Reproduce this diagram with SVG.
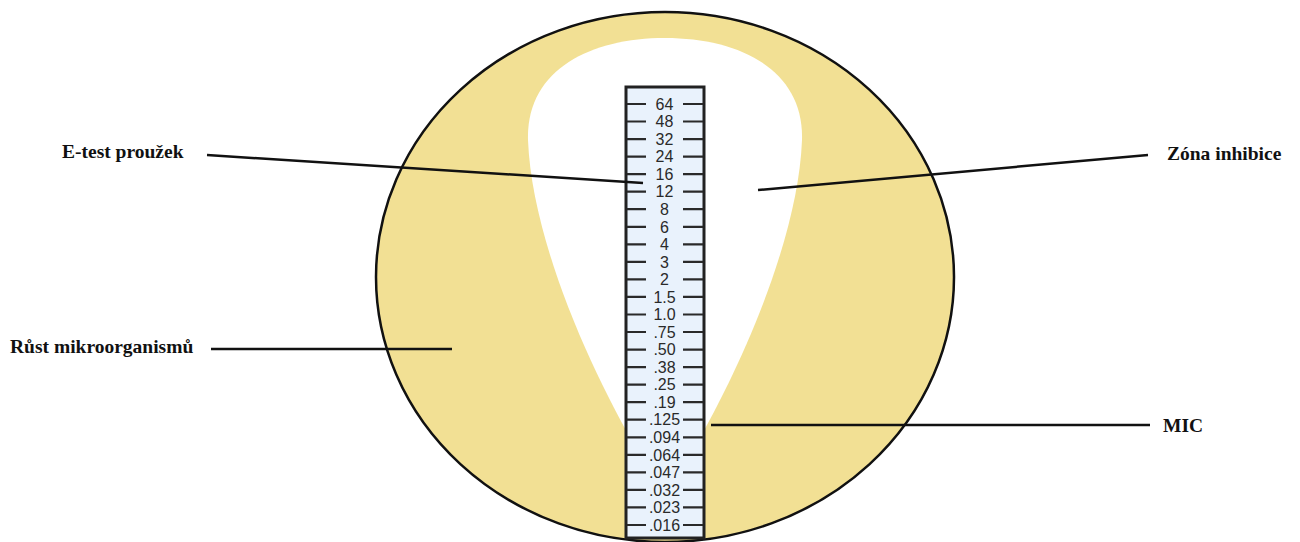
<svg xmlns="http://www.w3.org/2000/svg" width="1300" height="542" viewBox="0 0 1300 542">
<style>
.lbl{font-family:"Liberation Serif","Times New Roman",serif;font-weight:bold;font-size:19.5px;fill:#111}
.num{font-family:"Liberation Sans",Arial,sans-serif;font-size:16px;fill:#2a2a2a;text-anchor:middle}
.tick{stroke:#2a2a2a;stroke-width:2.2}
.conn{stroke:#111;stroke-width:2.5;fill:none}
</style>
<rect width="1300" height="542" fill="#fff"/>
<g id="plate">
<ellipse cx="665" cy="277" rx="289" ry="265" fill="#f2e094" stroke="#111" stroke-width="2.5"/>
<path id="inhibition-zone" d="M 640,455 C 590,370 532,240 528,140 C 526,70 590,38 665,38 C 740,38 804,70 802,140 C 798,240 740,370 690,455 Z" fill="#fff"/>
</g>
<g id="strip">
<rect x="626" y="87" width="78" height="451" fill="#e9f2fc" stroke="#222" stroke-width="3"/>
<g class="tick">
<path d="M627,104h19M683,104h20M627,121.5h19M683,121.5h20M627,139.1h19M683,139.1h20M627,156.6h19M683,156.6h20M627,174.2h19M683,174.2h20M627,191.7h19M683,191.7h20M627,209.2h19M683,209.2h20M627,226.8h19M683,226.8h20M627,244.3h19M683,244.3h20M627,261.9h19M683,261.9h20M627,279.4h19M683,279.4h20M627,296.9h19M683,296.9h20M627,314.5h19M683,314.5h20M627,332h19M683,332h20M627,349.6h19M683,349.6h20M627,367.1h19M683,367.1h20M627,384.6h19M683,384.6h20M627,402.2h19M683,402.2h20M627,419.7h19M683,419.7h20M627,437.3h19M683,437.3h20M627,454.8h19M683,454.8h20M627,472.3h19M683,472.3h20M627,489.9h19M683,489.9h20M627,507.4h19M683,507.4h20M627,525h19M683,525h20"/>
</g>
<text class="num" x="664.5" y="109.7">64</text>
<text class="num" x="664.5" y="127.2">48</text>
<text class="num" x="664.5" y="144.8">32</text>
<text class="num" x="664.5" y="162.3">24</text>
<text class="num" x="664.5" y="179.9">16</text>
<text class="num" x="664.5" y="197.4">12</text>
<text class="num" x="664.5" y="214.9">8</text>
<text class="num" x="664.5" y="232.5">6</text>
<text class="num" x="664.5" y="250">4</text>
<text class="num" x="664.5" y="267.6">3</text>
<text class="num" x="664.5" y="285.1">2</text>
<text class="num" x="664.5" y="302.6">1.5</text>
<text class="num" x="664.5" y="320.2">1.0</text>
<text class="num" x="664.5" y="337.7">.75</text>
<text class="num" x="664.5" y="355.3">.50</text>
<text class="num" x="664.5" y="372.8">.38</text>
<text class="num" x="664.5" y="390.3">.25</text>
<text class="num" x="664.5" y="407.9">.19</text>
<text class="num" x="664.5" y="425.4">.125</text>
<text class="num" x="664.5" y="443">.094</text>
<text class="num" x="664.5" y="460.5">.064</text>
<text class="num" x="664.5" y="478">.047</text>
<text class="num" x="664.5" y="495.6">.032</text>
<text class="num" x="664.5" y="513.1">.023</text>
<text class="num" x="664.5" y="530.7">.016</text>
</g>
<g id="connectors">
<path class="conn" d="M207,155 L643,183"/>
<path class="conn" d="M758,190 L1148,155"/>
<path class="conn" d="M211,349 L452,349"/>
<path class="conn" d="M711,425 L1150,425"/>
</g>
<g id="label-etest"><text class="lbl" x="62" y="158">E-test proužek</text></g>
<g id="label-zona"><text class="lbl" x="1167" y="160">Zóna inhibice</text></g>
<g id="label-rust"><text class="lbl" x="10" y="353">Růst mikroorganismů</text></g>
<g id="label-mic"><text class="lbl" x="1163" y="432">MIC</text></g>
</svg>
